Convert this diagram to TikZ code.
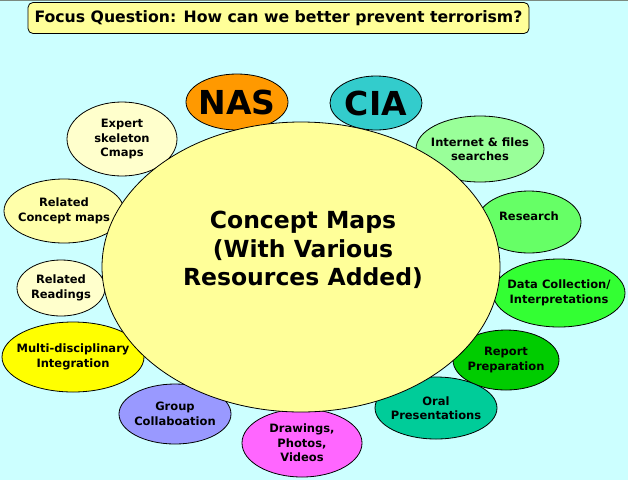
\documentclass[tikz,border=0pt]{standalone}
\usepackage{fontspec}
\setmainfont{DejaVu Sans}
\usetikzlibrary{shapes.geometric}
\definecolor{bgc}{HTML}{CCFFFF}
\definecolor{topc}{HTML}{7A8A80}
\definecolor{focusc}{HTML}{FFFF99}
\definecolor{mainc}{HTML}{FFFF99}
\definecolor{nasc}{HTML}{FF9900}
\definecolor{ciac}{HTML}{33CCCC}
\definecolor{expertc}{HTML}{FFFFCC}
\definecolor{relcmc}{HTML}{FFFFAA}
\definecolor{relrdc}{HTML}{FFFFCC}
\definecolor{multic}{HTML}{FFFF00}
\definecolor{groupc}{HTML}{9999FF}
\definecolor{drawc}{HTML}{FF66FF}
\definecolor{oralc}{HTML}{00CC99}
\definecolor{reportc}{HTML}{00CC00}
\definecolor{datac}{HTML}{33FF33}
\definecolor{researchc}{HTML}{66FF66}
\definecolor{internetc}{HTML}{99FF99}
\begin{document}
\begin{tikzpicture}[x=1pt,y=-1pt,
  sat/.style={ellipse, draw=black, line width=0.8pt, inner sep=0pt},
  lbl/.style={inner sep=0pt, align=center, font=\fontsize{11.5}{14.5}\selectfont\bfseries},
  biglbl/.style={inner sep=0pt, font=\fontsize{33}{36}\selectfont\bfseries}]
\fill[bgc] (0,0) rectangle (628,480);
\fill[topc] (0,0) rectangle (628,1.2);
\useasboundingbox (0,0) rectangle (628,480);
% focus question
\node[draw=black, line width=0.8pt, fill=focusc, rounded corners=5pt,
  minimum width=501pt, minimum height=31pt, inner sep=0pt,
  font=\fontsize{15.7}{18}\selectfont\bfseries] (focus) at (278.5,18) {Focus Question: How can we better prevent terrorism?};
% satellite shapes (behind the main circle)
\node[sat, fill=nasc, minimum width=102pt, minimum height=56pt] (nas) at (237,102) {};
\node[sat, fill=ciac, minimum width=92pt, minimum height=54pt] (cia) at (376,103) {};
\node[sat, fill=expertc, minimum width=110pt, minimum height=74pt] (expert) at (122,139) {};
\node[sat, fill=internetc, minimum width=128pt, minimum height=66pt] (internet) at (480,149) {};
\node[sat, fill=researchc, minimum width=104pt, minimum height=62pt] (research) at (529,222) {};
\node[sat, fill=datac, minimum width=132pt, minimum height=68pt] (data) at (559,293) {};
\node[sat, fill=reportc, minimum width=106pt, minimum height=60pt] (report) at (506,360) {};
\node[sat, fill=oralc, minimum width=122pt, minimum height=62pt] (oral) at (436,408) {};
\node[sat, fill=drawc, minimum width=120pt, minimum height=68pt] (draw) at (302,443) {};
\node[sat, fill=groupc, minimum width=112pt, minimum height=60pt] (group) at (175,414) {};
\node[sat, fill=multic, minimum width=142pt, minimum height=70pt] (multi) at (73,357) {};
\node[sat, fill=relrdc, minimum width=88pt, minimum height=56pt] (relrd) at (61,288) {};
\node[sat, fill=relcmc, minimum width=120pt, minimum height=64pt] (relcm) at (64,211) {};
% main circle
\node[sat, fill=mainc, minimum width=398pt, minimum height=290pt] (main) at (301,267) {};
\node[inner sep=0pt, align=center, font=\fontsize{23.5}{28.5}\selectfont\bfseries] (main-t) at (303,250)
  {Concept Maps\\(With Various\\Resources Added)};
% labels on top
\node[biglbl] (nas-t) at (nas) {NAS};
\node[biglbl] (cia-t) at (cia) {CIA};
\node[lbl] (expert-t) at (expert) {Expert\\skeleton\\Cmaps};
\node[lbl] (internet-t) at (internet) {Internet \& files\\searches};
\node[lbl] (research-t) at (529,216) {Research};
\node[lbl] (data-t) at (data) {Data Collection/\\Interpretations};
\node[lbl] (report-t) at (report) {Report\\Preparation};
\node[lbl] (oral-t) at (oral) {Oral\\Presentations};
\node[lbl] (draw-t) at (draw) {Drawings,\\Photos,\\Videos};
\node[lbl] (group-t) at (group) {Group\\Collaboation};
\node[lbl] (multi-t) at (multi) {Multi-disciplinary\\Integration};
\node[lbl] (relrd-t) at (relrd) {Related\\Readings};
\node[lbl] (relcm-t) at (relcm) {Related\\Concept maps};
\end{tikzpicture}
\end{document}
